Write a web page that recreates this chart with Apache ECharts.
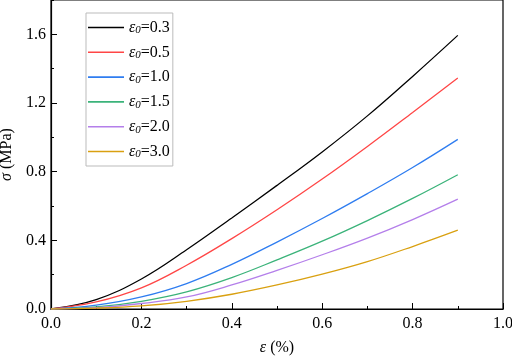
<!DOCTYPE html>
<html>
<head>
<meta charset="utf-8">
<script src="https://cdn.jsdelivr.net/npm/echarts@6/dist/echarts.min.js"></script>
<style>
  html, body { margin: 0; padding: 0; background: #fff; }
  #main { width: 512px; height: 356px; }
</style>
</head>
<body>
<div id="main"></div>
<script>
// 应变 ε (%)
var strain = [0, 0.1, 0.2, 0.3, 0.4, 0.5, 0.6, 0.7, 0.8, 0.9];
// 不同 ε0 下的应力 σ (MPa)
var e03 = [0, 0.055, 0.175, 0.345, 0.53, 0.72, 0.915, 1.125, 1.355, 1.594];
var e05 = [0, 0.041, 0.123, 0.255, 0.41, 0.578, 0.757, 0.947, 1.145, 1.346];
var e10 = [0, 0.022, 0.07, 0.148, 0.26, 0.39, 0.527, 0.672, 0.824, 0.988];
var e15 = [0, 0.012, 0.045, 0.1, 0.183, 0.286, 0.395, 0.515, 0.644, 0.782];
var e20 = [0, 0.008, 0.032, 0.07, 0.14, 0.225, 0.316, 0.413, 0.521, 0.64];
var e30 = [0, 0.005, 0.018, 0.045, 0.086, 0.14, 0.203, 0.276, 0.364, 0.459];

var labels = ['0.3', '0.5', '1.0', '1.5', '2.0', '3.0'];
var values = [e03, e05, e10, e15, e20, e30];
var colors = ['#000000', '#FF4646', '#2F7DF0', '#3BB37A', '#B47FEA', '#D9A010'];

var font = 'Liberation Serif';

var myChart = echarts.init(document.getElementById('main'));

var series = [];
for (var i = 0; i < labels.length; i++) {
    var d = [];
    for (var j = 0; j < strain.length; j++) {
        d.push([strain[j], values[i][j]]);
    }
    series.push({
        name: labels[i],
        type: 'line',
        data: d,
        smooth: 0.4,
        symbol: 'none',
        lineStyle: { color: colors[i], width: 1.3 },
        itemStyle: { color: colors[i] }
    });
}

var option = {
    animation: false,
    textStyle: { fontFamily: font },
    grid: {
        left: 51, right: 9, top: 0, bottom: 47,
        outerBoundsMode: 'none',
        show: true, borderColor: '#000', borderWidth: 1.2
    },
    legend: {
        left: 86, top: 13,
        orient: 'vertical',
        icon: 'rect',
        itemWidth: 36, itemHeight: 1.6, itemGap: 7.8,
        padding: [6, 3, 6, 2],
        borderColor: '#bbb', borderWidth: 1,
        formatter: function (name) {
            return '{e|ε}{s|0}{n|=' + name + '}';
        },
        textStyle: {
            fontFamily: font, fontSize: 15, color: '#000',
            rich: {
                e: { fontFamily: font, fontSize: 16, lineHeight: 17, fontStyle: 'italic', color: '#000' },
                s: { fontFamily: font, fontSize: 11, lineHeight: 17, fontStyle: 'italic', color: '#000', padding: [6, 0, 0, 0] },
                n: { fontFamily: font, fontSize: 16, lineHeight: 17, color: '#000' }
            }
        },
        data: labels
    },
    xAxis: {
        type: 'value',
        min: 0, max: 1, interval: 0.2,
        name: '{i|ε} (%)',
        nameLocation: 'middle', nameGap: 31,
        nameTextStyle: {
            fontFamily: font, fontSize: 16, color: '#000',
            rich: { i: { fontFamily: font, fontSize: 16, fontStyle: 'italic', color: '#000' } }
        },
        axisLine: { lineStyle: { color: '#000', width: 1.2 } },
        axisTick: { inside: true, length: 6, lineStyle: { color: '#000' } },
        minorTick: { show: true, splitNumber: 2, length: 3, lineStyle: { color: '#000' } },
        splitLine: { show: false },
        axisLabel: {
            fontFamily: font, fontSize: 16, color: '#000', margin: 7,
            formatter: function (v) { return v.toFixed(1); }
        }
    },
    yAxis: [{
        type: 'value',
        min: 0, max: 1.8, interval: 0.4,
        name: '{i|σ} (MPa)',
        nameLocation: 'middle', nameGap: 33,
        nameTextStyle: {
            fontFamily: font, fontSize: 16, color: '#000',
            rich: { i: { fontFamily: font, fontSize: 16, fontStyle: 'italic', color: '#000' } }
        },
        axisLine: { show: true, lineStyle: { color: '#000', width: 1.2 } },
        axisTick: { inside: true, length: 6, lineStyle: { color: '#000' } },
        splitLine: { show: false },
        axisLabel: {
            fontFamily: font, fontSize: 16, color: '#000', margin: 5,
            showMaxLabel: false,
            formatter: function (v) { return v > 1.7 ? '' : v.toFixed(1); }
        }
    }, {
        // 次刻度
        type: 'value', position: 'left',
        min: 0, max: 1.8, interval: 0.2,
        axisLine: { show: false },
        axisTick: { inside: true, length: 3, lineStyle: { color: '#000' } },
        axisLabel: { show: false },
        splitLine: { show: false }
    }],
    series: series
};

myChart.setOption(option);
</script>
</body>
</html>
